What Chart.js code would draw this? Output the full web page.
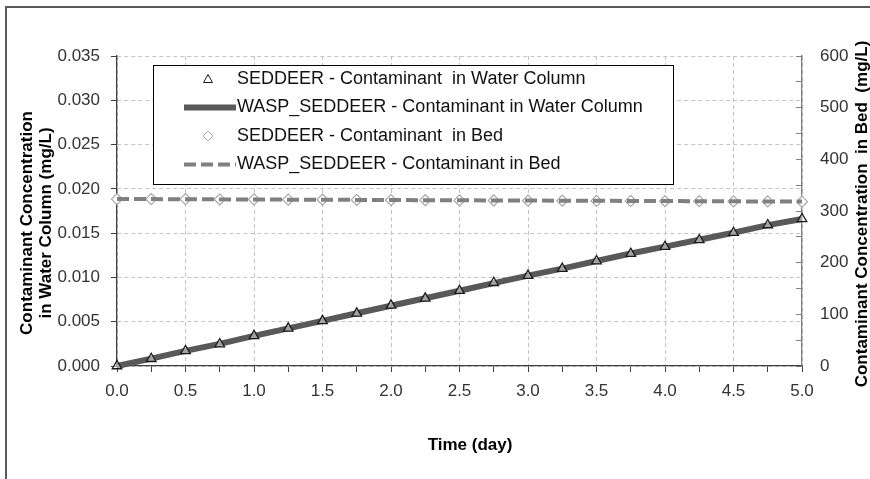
<!DOCTYPE html>
<html>
<head>
<meta charset="utf-8">
<script src="https://cdn.jsdelivr.net/npm/chart.js@4.4.1/dist/chart.umd.min.js"></script>
<style>
  html, body { margin: 0; padding: 0; background: #fff; }
  canvas { display: block; }
</style>
</head>
<body>
<canvas id="chart" width="870" height="479"></canvas>
<script>
// ---- data ----
const days = [0, 0.25, 0.5, 0.75, 1, 1.25, 1.5, 1.75, 2, 2.25, 2.5, 2.75, 3, 3.25, 3.5, 3.75, 4, 4.25, 4.5, 4.75, 5];

// contaminant in water column (mg/L), left axis
const waterSeddeer = [0, 0.00082, 0.0017, 0.00248, 0.0034, 0.00425, 0.0051, 0.00595, 0.00685, 0.00764, 0.0085,
  0.0094, 0.0102, 0.0110, 0.01185, 0.01268, 0.01347, 0.01423, 0.01505, 0.01592, 0.0166];
const waterWasp = [0, 0.00083, 0.0017, 0.0025, 0.0034, 0.00425, 0.0051, 0.00595, 0.0068, 0.00765, 0.0085,
  0.00935, 0.0102, 0.0110, 0.01185, 0.0127, 0.01348, 0.01425, 0.01505, 0.0159, 0.0166];

// contaminant in bed (mg/L), right axis
const bedSeddeer = [323, 323, 323, 322.5, 322.5, 322, 322, 321.5, 321, 321, 320.5,
  320.5, 320, 320, 319.5, 319.5, 319, 319, 318.5, 318.5, 318];
const bedWasp = [323, 323, 322.8, 322.5, 322.3, 322, 321.8, 321.5, 321.2, 321, 320.7,
  320.5, 320.2, 320, 319.7, 319.5, 319.2, 319, 318.7, 318.5, 318.2];

const seriesNames = [
  'SEDDEER - Contaminant  in Water Column',
  'WASP_SEDDEER - Contaminant in Water Column',
  'SEDDEER - Contaminant  in Bed',
  'WASP_SEDDEER - Contaminant in Bed'
];

const xTitle = 'Time (day)';
const leftTitle = ['Contaminant Concentration', 'in Water Column (mg/L)'];
const rightTitle = 'Contaminant Concentration  in Bed  (mg/L)';

const FONT = '"Liberation Sans", Arial, sans-serif';
const pts = vals => days.map((d, i) => ({ x: d, y: vals[i] }));

// white background and the grey frame at top / left
const framePlugin = {
  id: 'frame',
  beforeDraw(chart) {
    const c = chart.ctx;
    c.save();
    c.fillStyle = '#fff';
    c.fillRect(0, 0, chart.width, chart.height);
    c.strokeStyle = '#5a5a5a';
    c.lineWidth = 2;
    c.beginPath();
    c.moveTo(6, chart.height);
    c.lineTo(6, 7);
    c.lineTo(chart.width, 7);
    c.stroke();
    c.restore();
  }
};

// axis titles (right one reads bottom-to-top like the original)
const titlePlugin = {
  id: 'titles',
  afterDraw(chart) {
    const c = chart.ctx;
    c.save();
    c.fillStyle = '#000';
    c.font = 'bold 17px ' + FONT;
    c.textAlign = 'center';
    c.textBaseline = 'middle';
    c.fillText(xTitle, 470, 445);

    c.save();
    c.translate(27, 223);
    c.rotate(-Math.PI / 2);
    c.fillText(leftTitle[0], 0, 0);
    c.fillText(leftTitle[1], 0, 19);
    c.restore();

    c.save();
    c.translate(862, 214);
    c.rotate(-Math.PI / 2);
    c.fillText(rightTitle, 0, 0);
    c.restore();
    c.restore();
  }
};

// boxed legend sitting inside the plot
const legendPlugin = {
  id: 'boxLegend',
  afterDraw(chart) {
    const c = chart.ctx;
    const bx = 153, by = 65, bw = 520, bh = 119;
    c.save();
    c.fillStyle = '#fff';
    c.fillRect(bx, by, bw, bh);
    c.strokeStyle = '#000';
    c.lineWidth = 1;
    c.strokeRect(bx + 0.5, by + 0.5, bw, bh);

    c.font = '18px ' + FONT;
    c.textBaseline = 'middle';
    c.textAlign = 'left';
    seriesNames.forEach((name, i) => {
      const ds = chart.data.datasets[i];
      const y = by + 14 + i * 28.5;
      c.save();
      if (ds.showLine === false) {
        c.strokeStyle = ds.pointBorderColor;
        c.fillStyle = '#fff';
        c.lineWidth = 1;
        c.beginPath();
        if (ds.pointStyle === 'triangle') {
          c.moveTo(208, y - 4.5);
          c.lineTo(212.5, y + 3.5);
          c.lineTo(203.5, y + 3.5);
        } else {
          c.moveTo(208, y - 5);
          c.lineTo(213, y);
          c.lineTo(208, y + 5);
          c.lineTo(203, y);
        }
        c.closePath();
        c.fill();
        c.stroke();
      } else {
        c.strokeStyle = ds.borderColor;
        c.lineWidth = ds.borderWidth;
        c.setLineDash(ds.borderDash || []);
        c.beginPath();
        c.moveTo(184, y);
        c.lineTo(236, y);
        c.stroke();
      }
      c.restore();
      c.fillStyle = '#111';
      c.fillText(name, 237, y);
    });
    c.restore();
  }
};

const tickFont = { family: FONT, size: 17 };
const gridGrey = '#c4c4c4';

new Chart(document.getElementById('chart').getContext('2d'), {
  type: 'line',
  data: {
    datasets: [
      {
        label: seriesNames[0],
        data: pts(waterSeddeer),
        yAxisID: 'y',
        showLine: false,
        pointStyle: 'triangle',
        pointRadius: 5.5,
        pointBorderColor: '#1a1a1a',
        pointBackgroundColor: 'rgba(255,255,255,0.45)',
        pointBorderWidth: 1.3,
        order: 0,
        clip: false
      },
      {
        label: seriesNames[1],
        data: pts(waterWasp),
        yAxisID: 'y',
        borderColor: '#595959',
        borderWidth: 6,
        pointRadius: 0,
        order: 1,
        clip: false
      },
      {
        label: seriesNames[2],
        data: pts(bedSeddeer),
        yAxisID: 'y2',
        showLine: false,
        pointStyle: 'rectRot',
        pointRadius: 5.5,
        pointBorderColor: '#a6a6a6',
        pointBackgroundColor: '#fff',
        pointBorderWidth: 1.2,
        order: 3,
        clip: false
      },
      {
        label: seriesNames[3],
        data: pts(bedWasp),
        yAxisID: 'y2',
        borderColor: '#808080',
        borderWidth: 4,
        borderDash: [12, 5],
        pointRadius: 0,
        order: 2,
        clip: false
      }
    ]
  },
  options: {
    responsive: false,
    animation: false,
    layout: { padding: { top: 56, left: 0, right: 0, bottom: 0 } },
    plugins: {
      legend: { display: false },
      tooltip: { enabled: false }
    },
    scales: {
      x: {
        type: 'linear',
        min: 0,
        max: 5,
        afterFit: s => { s.height = 113; },
        ticks: {
          stepSize: 0.25,
          autoSkip: false,
          maxRotation: 0,
          color: '#333',
          font: tickFont,
          padding: 9,
          callback: v => (Math.round(v * 4) % 2 === 0 ? v.toFixed(1) : '')
        },
        grid: {
          color: ctx => (Math.round(ctx.tick.value * 4) % 2 === 0 ? gridGrey : 'rgba(0,0,0,0)'),
          tickColor: '#404040',
          tickWidth: 1,
          tickLength: 6,
          tickBorderDash: []
        },
        border: { color: '#404040', width: 1.3, dash: [4, 3] }
      },
      y: {
        position: 'left',
        min: 0,
        max: 0.035,
        afterFit: s => { s.width = 117; },
        ticks: {
          stepSize: 0.005,
          color: '#333',
          font: tickFont,
          padding: 11,
          callback: v => v.toFixed(3)
        },
        grid: {
          color: gridGrey,
          tickColor: '#404040',
          tickWidth: 1,
          tickLength: 6,
          tickBorderDash: []
        },
        border: { color: '#404040', width: 1.3, dash: [4, 3] }
      },
      y2: {
        position: 'right',
        min: 0,
        max: 600,
        afterFit: s => { s.width = 68; },
        ticks: {
          stepSize: 50,
          color: '#333',
          font: tickFont,
          padding: 24,
          callback: v => (v % 100 === 0 ? String(v) : '')
        },
        grid: {
          drawOnChartArea: false,
          tickColor: '#808080',
          tickWidth: 1,
          tickLength: -6,
          tickBorderDash: []
        },
        border: { color: '#808080', width: 1.3 }
      }
    }
  },
  plugins: [framePlugin, legendPlugin, titlePlugin]
});
</script>
</body>
</html>
